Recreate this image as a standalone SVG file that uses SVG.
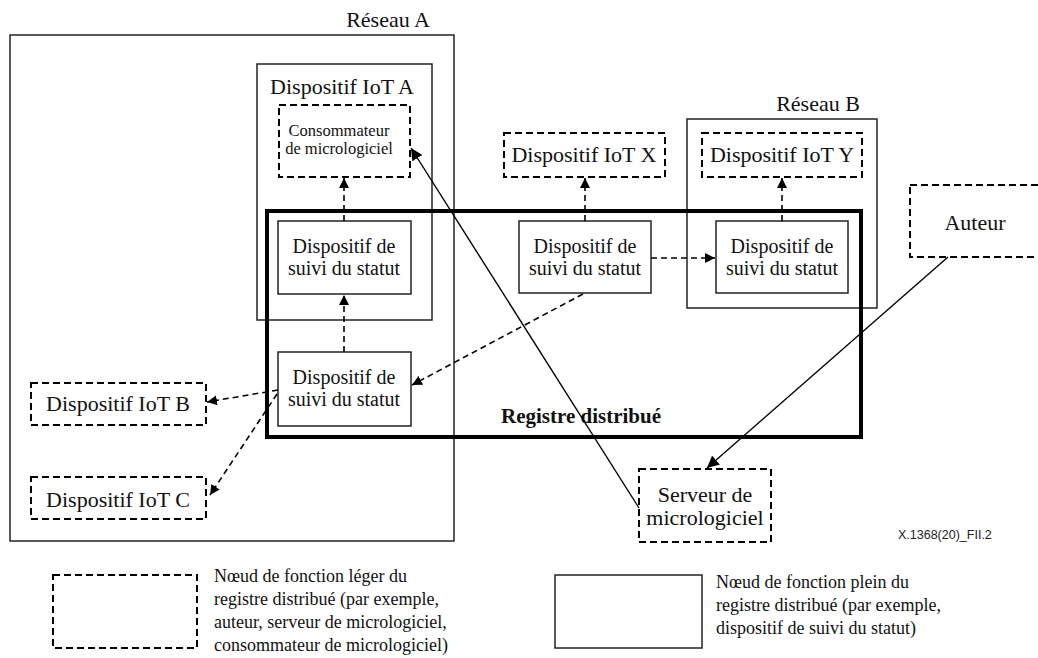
<svg xmlns="http://www.w3.org/2000/svg" width="1038" height="658" viewBox="0 0 1038 658">
<defs>
<style>
.solid{fill:none;stroke:#222;stroke-width:1.5}
.thick{fill:none;stroke:#000;stroke-width:4}
.dbox{fill:none;stroke:#000;stroke-width:2;stroke-dasharray:7 4}
.t{font-family:"Liberation Serif","Times New Roman",serif;fill:#111;text-anchor:middle}
.l{font-family:"Liberation Serif","Times New Roman",serif;fill:#111;font-size:18px}
.dc{fill:none;stroke:#000;stroke-width:1.6;stroke-dasharray:6 4}
.sc{fill:none;stroke:#000;stroke-width:1.4}
</style>
<marker id="ah" viewBox="0 0 10 10" refX="10" refY="5" markerWidth="10" markerHeight="10" markerUnits="userSpaceOnUse" orient="auto">
<path d="M0,0 L10,5 L0,10 z" fill="#000"/>
</marker>
<marker id="ah2" viewBox="0 0 10 10" refX="10" refY="5" markerWidth="12" markerHeight="12" markerUnits="userSpaceOnUse" orient="auto">
<path d="M0,0 L10,5 L0,10 z" fill="#000"/>
</marker>
</defs>

<g id="reseau-a">
<rect class="solid" x="10" y="35" width="444" height="506"/>
<text class="t" x="388" y="27" font-size="22">Réseau A</text>
</g>

<g id="iot-a">
<rect class="solid" x="257" y="64" width="175" height="256"/>
<text class="t" x="342" y="94" font-size="22">Dispositif IoT A</text>
</g>

<g id="reseau-b">
<rect class="solid" x="687" y="119" width="190" height="189"/>
<text class="t" x="818" y="111" font-size="22">Réseau B</text>
</g>

<g id="registre">
<rect class="thick" x="267" y="211" width="594" height="226"/>
<text class="t" x="581" y="423" font-size="21" font-weight="bold">Registre distribué</text>
</g>

<g id="consommateur">
<rect class="dbox" x="279" y="105" width="131" height="72"/>
<text class="t" x="339" y="136" font-size="16.5">Consommateur</text>
<text class="t" x="339" y="154" font-size="16.5">de micrologiciel</text>
</g>

<g id="statut-1">
<rect class="solid" x="278" y="221" width="133" height="73"/>
<text class="t" x="344" y="253" font-size="20">Dispositif de</text>
<text class="t" x="344" y="275" font-size="20">suivi du statut</text>
</g>

<g id="statut-2">
<rect class="solid" x="278" y="352" width="133" height="74"/>
<text class="t" x="344" y="384" font-size="20">Dispositif de</text>
<text class="t" x="344" y="406" font-size="20">suivi du statut</text>
</g>

<g id="statut-x">
<rect class="solid" x="519" y="221" width="132" height="72"/>
<text class="t" x="585" y="253" font-size="20">Dispositif de</text>
<text class="t" x="585" y="275" font-size="20">suivi du statut</text>
</g>

<g id="statut-y">
<rect class="solid" x="716" y="221" width="132" height="72"/>
<text class="t" x="782" y="253" font-size="20">Dispositif de</text>
<text class="t" x="782" y="275" font-size="20">suivi du statut</text>
</g>

<g id="iot-x">
<rect class="dbox" x="504" y="133" width="161" height="44"/>
<text class="t" x="584" y="162" font-size="22">Dispositif IoT X</text>
</g>

<g id="iot-y">
<rect class="dbox" x="702" y="133" width="160" height="44"/>
<text class="t" x="782" y="162" font-size="22">Dispositif IoT Y</text>
</g>

<g id="iot-b">
<rect class="dbox" x="31" y="383" width="175" height="42"/>
<text class="t" x="118" y="411" font-size="22">Dispositif IoT B</text>
</g>

<g id="iot-c">
<rect class="dbox" x="31" y="477" width="175" height="42"/>
<text class="t" x="118" y="507" font-size="22">Dispositif IoT C</text>
</g>

<g id="auteur">
<rect class="dbox" x="910" y="185" width="136" height="72"/>
<text class="t" x="975" y="230" font-size="22">Auteur</text>
</g>

<g id="serveur">
<rect class="dbox" x="639" y="469" width="132" height="73"/>
<text class="t" x="705" y="502" font-size="22">Serveur de</text>
<text class="t" x="705" y="525" font-size="22">micrologiciel</text>
</g>

<g id="ref">
<text x="898" y="539" font-family="Liberation Sans, Arial, sans-serif" font-size="12.5" fill="#222">X.1368(20)_FII.2</text>
</g>

<g id="legende-leger">
<rect class="dbox" x="53" y="575" width="144" height="73"/>
<text class="l" x="214" y="582">Nœud de fonction léger du</text>
<text class="l" x="214" y="605">registre distribué (par exemple,</text>
<text class="l" x="214" y="628">auteur, serveur de micrologiciel,</text>
<text class="l" x="214" y="651">consommateur de micrologiciel)</text>
</g>

<g id="legende-plein">
<rect class="solid" x="555" y="575" width="147" height="73"/>
<text class="l" x="716" y="588">Nœud de fonction plein du</text>
<text class="l" x="716" y="611">registre distribué (par exemple,</text>
<text class="l" x="716" y="634">dispositif de suivi du statut)</text>
</g>

<g id="connecteurs">
<line class="dc" x1="344" y1="221" x2="344" y2="178" marker-end="url(#ah)"/>
<line class="dc" x1="344" y1="352" x2="344" y2="295" marker-end="url(#ah)"/>
<line class="dc" x1="585" y1="221" x2="585" y2="178" marker-end="url(#ah)"/>
<line class="dc" x1="782" y1="221" x2="782" y2="178" marker-end="url(#ah)"/>
<line class="dc" x1="651" y1="258" x2="715" y2="258" marker-end="url(#ah)"/>
<line class="dc" x1="583" y1="294" x2="412" y2="385" marker-end="url(#ah)"/>
<line class="dc" x1="278" y1="390" x2="207" y2="402" marker-end="url(#ah)"/>
<line class="dc" x1="277" y1="394" x2="210" y2="495" marker-end="url(#ah)"/>
<line class="sc" x1="639" y1="508" x2="411" y2="148" marker-end="url(#ah2)"/>
<line class="sc" x1="948" y1="257" x2="707" y2="468" marker-end="url(#ah2)"/>
</g>
</svg>
